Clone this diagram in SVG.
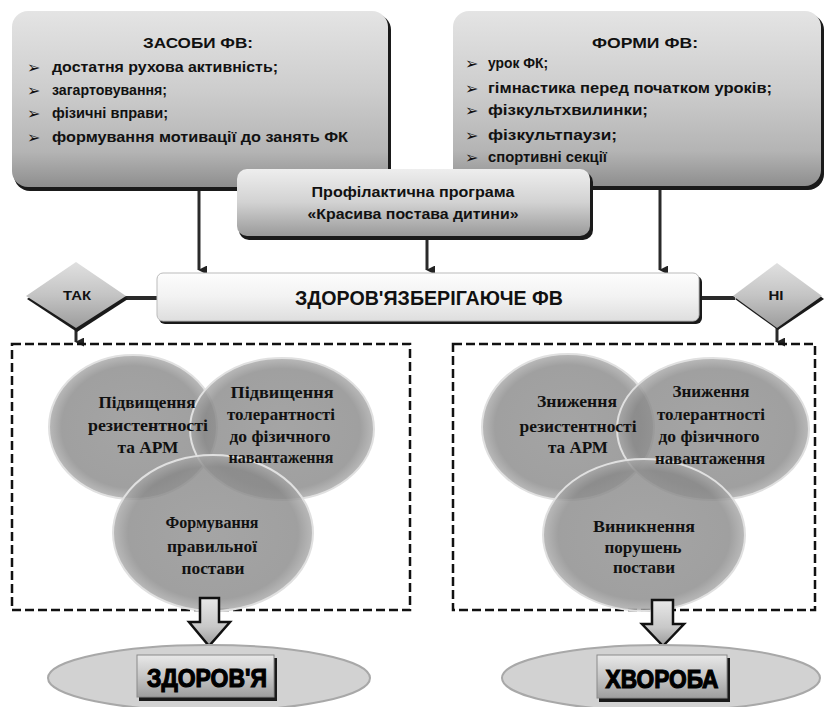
<svg xmlns="http://www.w3.org/2000/svg" width="824" height="707" viewBox="0 0 824 707">
<defs>
<linearGradient id="gBox" x1="0" y1="0" x2="0" y2="1">
<stop offset="0" stop-color="#e4e4e4"/><stop offset="0.45" stop-color="#cdcdcd"/><stop offset="0.8" stop-color="#b4b4b4"/><stop offset="1" stop-color="#8e8e8e"/>
</linearGradient>
<linearGradient id="gMid" x1="0" y1="0" x2="0" y2="1">
<stop offset="0" stop-color="#eeeeee"/><stop offset="0.5" stop-color="#d2d2d2"/><stop offset="1" stop-color="#9a9a9a"/>
</linearGradient>
<linearGradient id="gMain" x1="0" y1="0" x2="0" y2="1">
<stop offset="0" stop-color="#fdfdfd"/><stop offset="0.5" stop-color="#f2f2f2"/><stop offset="1" stop-color="#dedede"/>
</linearGradient>
<linearGradient id="gDia" x1="0" y1="0" x2="0" y2="1">
<stop offset="0" stop-color="#e0e0e0"/><stop offset="0.5" stop-color="#c4c4c4"/><stop offset="1" stop-color="#9c9c9c"/>
</linearGradient>
<linearGradient id="gArrow" x1="0" y1="0" x2="0" y2="1">
<stop offset="0" stop-color="#e8e8e8"/><stop offset="0.6" stop-color="#c8c8c8"/><stop offset="1" stop-color="#9a9a9a"/>
</linearGradient>
<linearGradient id="gLabel" x1="0" y1="0" x2="0" y2="1">
<stop offset="0" stop-color="#e8e8e8"/><stop offset="0.5" stop-color="#c6c6c6"/><stop offset="1" stop-color="#9e9e9e"/>
</linearGradient>
<radialGradient id="gCirc" cx="0.5" cy="0.5" r="0.5">
<stop offset="0" stop-color="#8e8e8e"/><stop offset="0.85" stop-color="#888888"/><stop offset="1" stop-color="#a8a8a8"/>
</radialGradient>
<marker id="ah" viewBox="0 0 10 10" refX="5" refY="9" markerWidth="3" markerHeight="3" orient="auto-start-reverse" markerUnits="strokeWidth">
<path d="M0,0 L10,0 L5,10 Z" fill="#222"/>
</marker>
</defs>
<style>
.t{font-family:"Liberation Sans",Arial,sans-serif;font-weight:bold;fill:#111;}
.b{font-family:"DejaVu Sans",sans-serif;font-size:16px;font-weight:bold;fill:#111;}
.s{font-family:"Liberation Serif","Times New Roman",serif;font-weight:bold;fill:#111;font-size:16px;text-anchor:middle;}
.sh{fill:#1a1a1a;}
.con{stroke:#2a2a2a;stroke-width:3;fill:none;}
.dash{fill:none;stroke:#111;stroke-width:2.5;stroke-dasharray:9 4;}
.circ{fill:url(#gCirc);fill-opacity:0.8;stroke:#e0e0e0;stroke-width:2;}
.lab{font-family:"Liberation Sans",Arial,sans-serif;font-weight:bold;fill:#000;stroke:#000;stroke-width:1.2;text-anchor:middle;}
</style>
<rect width="824" height="707" fill="#ffffff"/>

<g id="connectors">
<line class="con" x1="199" y1="188" x2="199" y2="270" marker-end="url(#ah)"/>
<line class="con" x1="427" y1="236" x2="427" y2="270" marker-end="url(#ah)"/>
<line class="con" x1="660" y1="186" x2="660" y2="270" marker-end="url(#ah)"/>
<line x1="124" y1="298" x2="158" y2="298" stroke="#2a2a2a" stroke-width="4"/>
<line x1="699" y1="298" x2="735" y2="298" stroke="#2a2a2a" stroke-width="4"/>
<line class="con" x1="76" y1="326" x2="76" y2="342" marker-end="url(#ah)"/>
<line class="con" x1="777" y1="326" x2="777" y2="342" marker-end="url(#ah)"/>
</g>

<g id="zasoby">
<rect class="sh" x="14" y="14" width="377" height="177" rx="16"/>
<rect x="12" y="11" width="376" height="176" rx="16" fill="url(#gBox)"/>
<text class="t" x="198" y="48" font-size="14" text-anchor="middle" textLength="110" lengthAdjust="spacingAndGlyphs">ЗАСОБИ ФВ:</text>
<text class="b" x="27" y="73">➢</text>
<text class="t" x="52" y="72" font-size="14" textLength="226" lengthAdjust="spacingAndGlyphs">достатня рухова активність;</text>
<text class="b" x="27" y="96">➢</text>
<text class="t" x="52" y="95" font-size="14" textLength="115" lengthAdjust="spacingAndGlyphs">загартовування;</text>
<text class="b" x="27" y="119">➢</text>
<text class="t" x="52" y="118" font-size="14" textLength="116" lengthAdjust="spacingAndGlyphs">фізичні вправи;</text>
<text class="b" x="27" y="143">➢</text>
<text class="t" x="52" y="142" font-size="14" textLength="296" lengthAdjust="spacingAndGlyphs">формування мотивації до занять ФК</text>
</g>

<g id="formy">
<rect class="sh" x="455" y="14" width="369" height="176" rx="16"/>
<rect x="453" y="11" width="368" height="175" rx="16" fill="url(#gBox)"/>
<text class="t" x="645" y="48" font-size="14" text-anchor="middle" textLength="106" lengthAdjust="spacingAndGlyphs">ФОРМИ ФВ:</text>
<text class="b" x="465" y="69">➢</text>
<text class="t" x="488" y="68" font-size="14" textLength="60" lengthAdjust="spacingAndGlyphs">урок ФК;</text>
<text class="b" x="465" y="94">➢</text>
<text class="t" x="488" y="93" font-size="14" textLength="284" lengthAdjust="spacingAndGlyphs">гімнастика перед початком уроків;</text>
<text class="b" x="465" y="116">➢</text>
<text class="t" x="488" y="115" font-size="14" textLength="160" lengthAdjust="spacingAndGlyphs">фізкультхвилинки;</text>
<text class="b" x="465" y="141">➢</text>
<text class="t" x="488" y="140" font-size="14" textLength="129" lengthAdjust="spacingAndGlyphs">фізкультпаузи;</text>
<text class="b" x="465" y="163">➢</text>
<text class="t" x="488" y="162" font-size="14" textLength="119" lengthAdjust="spacingAndGlyphs">спортивні секції</text>
</g>

<g id="program">
<rect class="sh" x="239" y="172" width="354" height="68" rx="10"/>
<rect x="237" y="169" width="353" height="67" rx="10" fill="url(#gMid)"/>
<text class="t" x="413" y="197" font-size="14" text-anchor="middle" textLength="203" lengthAdjust="spacingAndGlyphs">Профілактична програма</text>
<text class="t" x="413" y="219" font-size="14" text-anchor="middle" textLength="211" lengthAdjust="spacingAndGlyphs">«Красива постава дитини»</text>
</g>

<g id="main">
<rect class="sh" x="159" y="276" width="543" height="48" rx="6"/>
<rect x="157" y="273" width="542" height="48" rx="6" fill="url(#gMain)" stroke="#bbbbbb" stroke-width="1"/>
<text class="t" x="429" y="305" font-size="20" text-anchor="middle" textLength="268" lengthAdjust="spacingAndGlyphs">ЗДОРОВ'ЯЗБЕРІГАЮЧЕ ФВ</text>
</g>

<g id="tak">
<polygon class="sh" points="77,264 128,299 77,332 27,299"/>
<polygon points="76,262 126,296 76,328 26,296" fill="url(#gDia)"/>
<text class="t" x="77" y="300" font-size="13" text-anchor="middle" textLength="28" lengthAdjust="spacingAndGlyphs">ТАК</text>
</g>

<g id="ni">
<polygon class="sh" points="778,265 824,299 778,330 735,299"/>
<polygon points="777,263 822,296 777,328 733,296" fill="url(#gDia)"/>
<text class="t" x="776" y="300" font-size="13" text-anchor="middle" textLength="15" lengthAdjust="spacingAndGlyphs">НІ</text>
</g>

<g id="left-group">
<rect class="dash" x="12" y="344" width="398" height="266"/>
<ellipse class="circ" cx="133" cy="427" rx="84" ry="72"/>
<ellipse class="circ" cx="282" cy="429" rx="92" ry="71"/>
<ellipse class="circ" cx="213" cy="533" rx="100" ry="78"/>
<text class="s" x="147" y="408" textLength="97" lengthAdjust="spacingAndGlyphs">Підвищення</text>
<text class="s" x="148" y="431" textLength="120" lengthAdjust="spacingAndGlyphs">резистентності</text>
<text class="s" x="148" y="453" textLength="61" lengthAdjust="spacingAndGlyphs">та АРМ</text>
<text class="s" x="282" y="398" textLength="103" lengthAdjust="spacingAndGlyphs">Підвищення</text>
<text class="s" x="281" y="420" textLength="108" lengthAdjust="spacingAndGlyphs">толерантності</text>
<text class="s" x="280" y="442" textLength="101" lengthAdjust="spacingAndGlyphs">до фізичного</text>
<text class="s" x="281" y="463" font-size="14" textLength="105" lengthAdjust="spacingAndGlyphs">навантаження</text>
<text class="s" x="212" y="528" textLength="93" lengthAdjust="spacingAndGlyphs">Формування</text>
<text class="s" x="212" y="552" textLength="90" lengthAdjust="spacingAndGlyphs">правильної</text>
<text class="s" x="213" y="574" font-size="14" textLength="63" lengthAdjust="spacingAndGlyphs">постави</text>
</g>

<g id="right-group">
<rect class="dash" x="453" y="344" width="362" height="266"/>
<ellipse class="circ" cx="568" cy="427" rx="86" ry="73"/>
<ellipse class="circ" cx="713" cy="429" rx="96" ry="71"/>
<ellipse class="circ" cx="644" cy="535" rx="101" ry="76"/>
<text class="s" x="577" y="407" textLength="80" lengthAdjust="spacingAndGlyphs">Зниження</text>
<text class="s" x="578" y="432" textLength="117" lengthAdjust="spacingAndGlyphs">резистентності</text>
<text class="s" x="578" y="453" textLength="60" lengthAdjust="spacingAndGlyphs">та АРМ</text>
<text class="s" x="711" y="397" textLength="77" lengthAdjust="spacingAndGlyphs">Зниження</text>
<text class="s" x="711" y="420" textLength="108" lengthAdjust="spacingAndGlyphs">толерантності</text>
<text class="s" x="709" y="442" textLength="101" lengthAdjust="spacingAndGlyphs">до фізичного</text>
<text class="s" x="710" y="464" font-size="14" textLength="110" lengthAdjust="spacingAndGlyphs">навантаження</text>
<text class="s" x="644" y="532" textLength="102" lengthAdjust="spacingAndGlyphs">Виникнення</text>
<text class="s" x="643" y="553" textLength="77" lengthAdjust="spacingAndGlyphs">порушень</text>
<text class="s" x="644" y="573" font-size="14" textLength="62" lengthAdjust="spacingAndGlyphs">постави</text>
</g>

<g id="arrow-left">
<polygon points="200,598 219,598 219,622 230,622 209,646 189,622 200,622" fill="url(#gArrow)" stroke="#111" stroke-width="2.5" stroke-linejoin="miter"/>
</g>
<g id="arrow-right">
<polygon points="652,600 673,600 673,624 684,624 663,646 642,624 652,624" fill="url(#gArrow)" stroke="#111" stroke-width="2.5" stroke-linejoin="miter"/>
</g>

<g id="zdorovya">
<ellipse cx="209" cy="678" rx="161" ry="33" fill="#d2d2d2" stroke="#a8a8a8" stroke-width="2"/>
<rect class="sh" x="139" y="658" width="138" height="43"/>
<rect x="137" y="655" width="137" height="42" fill="url(#gLabel)" stroke="#8a8a8a" stroke-width="1"/>
<text class="lab" x="207" y="687" font-size="26" textLength="120" lengthAdjust="spacingAndGlyphs">ЗДОРОВ'Я</text>
</g>

<g id="hvoroba">
<ellipse cx="661" cy="678" rx="159" ry="33" fill="#d2d2d2" stroke="#a8a8a8" stroke-width="2"/>
<rect class="sh" x="599" y="658" width="131" height="44"/>
<rect x="597" y="655" width="130" height="43" fill="url(#gLabel)" stroke="#8a8a8a" stroke-width="1"/>
<text class="lab" x="662" y="688" font-size="26" textLength="113" lengthAdjust="spacingAndGlyphs">ХВОРОБА</text>
</g>
</svg>
